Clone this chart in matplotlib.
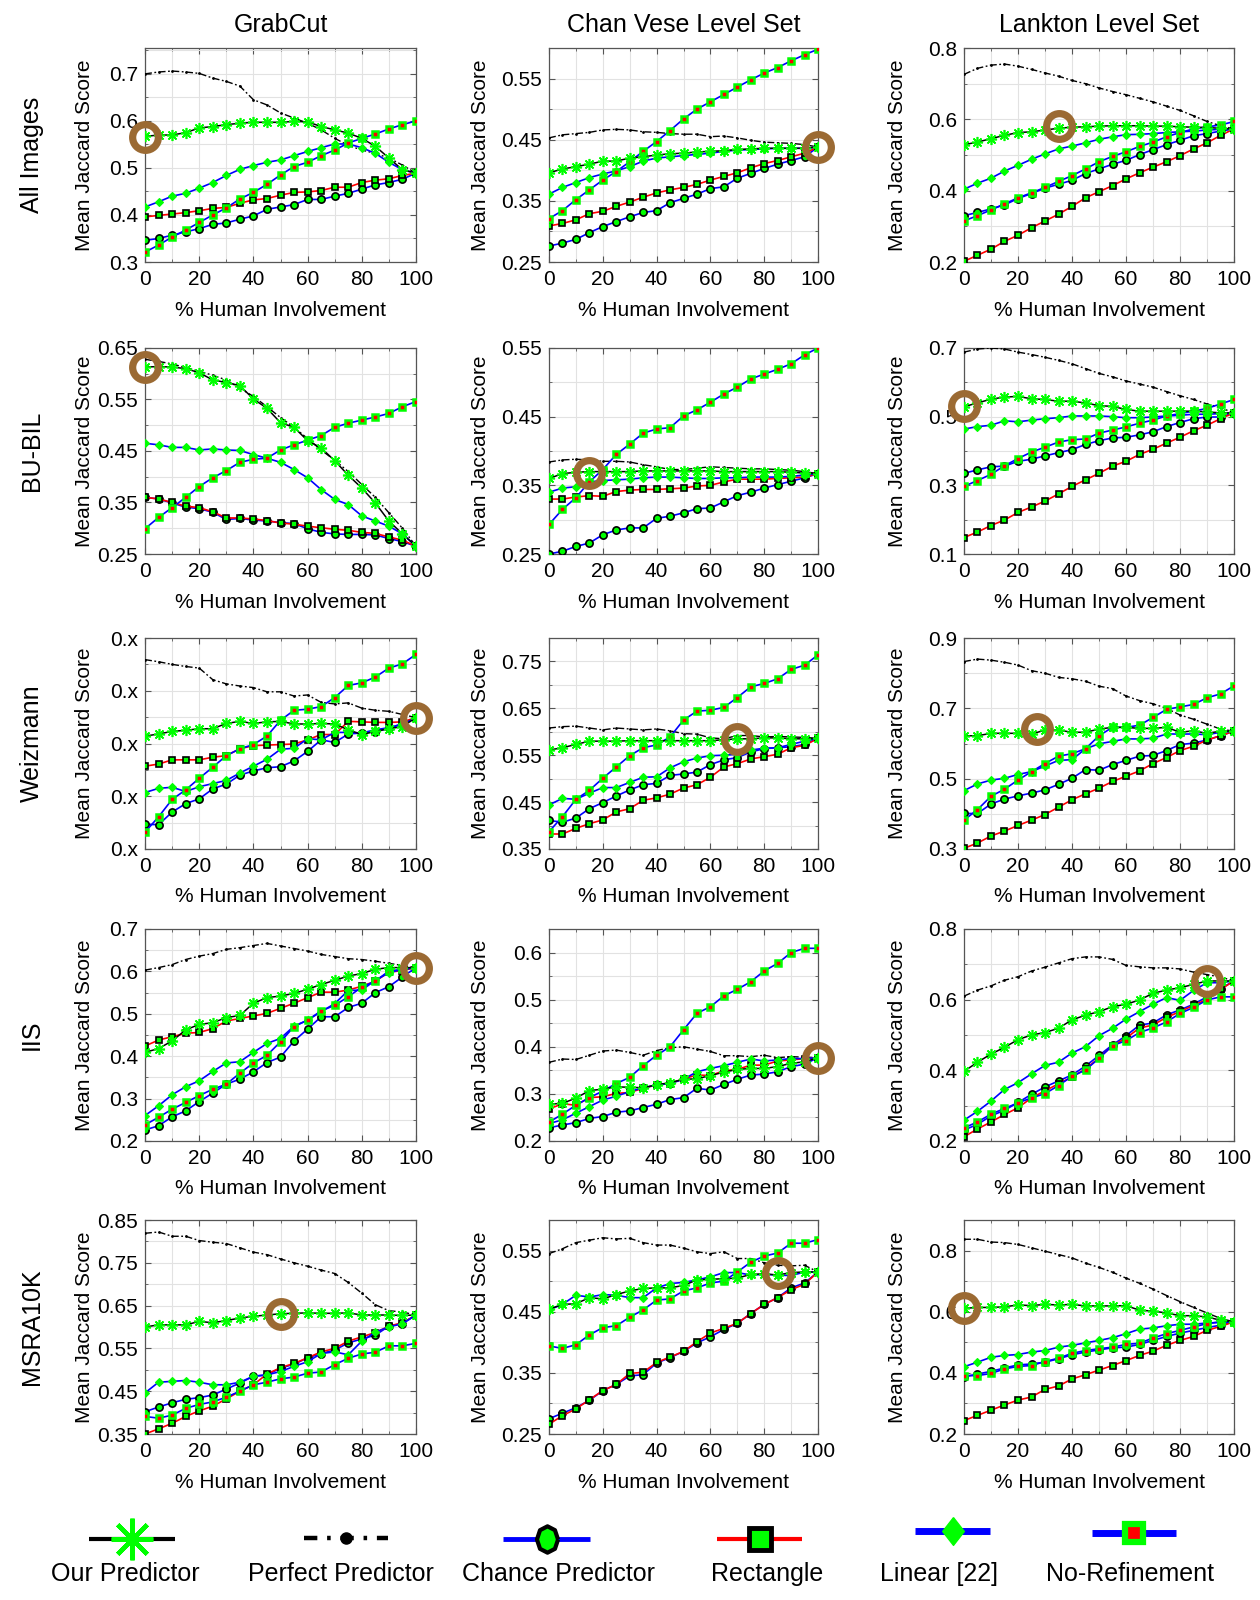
import numpy as np
import matplotlib
matplotlib.use('Agg')
import matplotlib.pyplot as plt
from matplotlib.ticker import FixedLocator, MultipleLocator

plt.rcParams['font.family'] = ['Liberation Sans', 'DejaVu Sans']

# ---------------- data ----------------
x_pct = [0, 5, 10, 15, 20, 25, 30, 35, 40, 45, 50, 55, 60, 65, 70, 75, 80, 85, 90, 95, 100]

datasets = ['All Images', 'BU-BIL', 'Weizmann', 'IIS', 'MSRA10K']
methods = ['GrabCut', 'Chan Vese Level Set', 'Lankton Level Set']
series_names = ['Our Predictor', 'Perfect Predictor', 'Chance Predictor',
                'Rectangle', 'Linear [22]', 'No-Refinement']

# All Images - GrabCut
AI_GC_our = [0.567,0.570,0.570,0.575,0.585,0.588,0.592,0.595,0.597,0.597,0.597,0.599,0.598,0.588,0.581,0.574,0.563,0.546,0.521,0.496,0.489]
AI_GC_perfect = [0.700,0.704,0.706,0.704,0.701,0.691,0.684,0.674,0.645,0.634,0.617,0.606,0.595,0.581,0.563,0.548,0.538,0.531,0.521,0.506,0.489]
AI_GC_chance = [0.346,0.350,0.357,0.364,0.371,0.380,0.383,0.391,0.398,0.412,0.417,0.422,0.433,0.433,0.440,0.446,0.455,0.464,0.469,0.476,0.489]
AI_GC_rect = [0.396,0.399,0.402,0.405,0.409,0.414,0.416,0.425,0.432,0.435,0.442,0.448,0.449,0.452,0.459,0.459,0.469,0.474,0.477,0.484,0.489]
AI_GC_linear = [0.417,0.428,0.440,0.446,0.457,0.469,0.484,0.497,0.505,0.512,0.517,0.526,0.535,0.543,0.551,0.551,0.543,0.531,0.512,0.496,0.489]
AI_GC_noref = [0.321,0.336,0.353,0.368,0.384,0.400,0.415,0.434,0.448,0.465,0.485,0.503,0.512,0.526,0.538,0.553,0.563,0.572,0.583,0.592,0.600]

# All Images - Chan Vese
AI_CV_our = [0.396,0.402,0.406,0.410,0.415,0.415,0.420,0.422,0.425,0.427,0.428,0.430,0.431,0.432,0.434,0.435,0.436,0.436,0.436,0.436,0.438]
AI_CV_perfect = [0.453,0.458,0.460,0.462,0.466,0.467,0.466,0.463,0.462,0.460,0.459,0.459,0.455,0.456,0.453,0.449,0.446,0.445,0.444,0.442,0.438]
AI_CV_chance = [0.276,0.281,0.287,0.298,0.308,0.316,0.324,0.331,0.334,0.347,0.354,0.361,0.370,0.373,0.387,0.395,0.403,0.410,0.416,0.422,0.438]
AI_CV_rect = [0.309,0.313,0.319,0.329,0.333,0.341,0.348,0.356,0.363,0.368,0.372,0.377,0.384,0.390,0.396,0.404,0.411,0.416,0.422,0.428,0.438]
AI_CV_linear = [0.361,0.372,0.380,0.388,0.394,0.399,0.406,0.415,0.420,0.422,0.424,0.426,0.428,0.431,0.433,0.434,0.435,0.436,0.436,0.436,0.438]
AI_CV_noref = [0.321,0.334,0.352,0.368,0.384,0.398,0.414,0.431,0.447,0.465,0.484,0.500,0.512,0.524,0.536,0.548,0.559,0.568,0.579,0.589,0.598]

# All Images - Lankton
AI_LK_our = [0.529,0.536,0.546,0.555,0.563,0.565,0.570,0.575,0.578,0.579,0.581,0.582,0.582,0.582,0.581,0.581,0.579,0.578,0.577,0.575,0.573]
AI_LK_perfect = [0.726,0.743,0.752,0.755,0.749,0.740,0.730,0.721,0.709,0.700,0.688,0.678,0.669,0.659,0.649,0.637,0.625,0.610,0.594,0.582,0.573]
AI_LK_chance = [0.330,0.339,0.349,0.360,0.378,0.392,0.407,0.418,0.429,0.448,0.461,0.474,0.485,0.501,0.515,0.529,0.541,0.554,0.560,0.567,0.573]
AI_LK_rect = [0.202,0.219,0.236,0.258,0.275,0.296,0.315,0.334,0.356,0.380,0.397,0.414,0.433,0.450,0.466,0.481,0.498,0.517,0.534,0.555,0.573]
AI_LK_linear = [0.404,0.421,0.435,0.455,0.471,0.488,0.503,0.517,0.525,0.534,0.544,0.551,0.557,0.558,0.560,0.563,0.565,0.567,0.570,0.572,0.573]
AI_LK_noref = [0.315,0.330,0.346,0.363,0.380,0.394,0.409,0.426,0.442,0.461,0.481,0.496,0.509,0.524,0.536,0.551,0.563,0.573,0.579,0.584,0.594]

# BU-BIL - GrabCut
BB_GC_our = [0.613,0.614,0.613,0.610,0.602,0.588,0.583,0.577,0.551,0.533,0.505,0.496,0.470,0.456,0.431,0.403,0.378,0.349,0.314,0.289,0.265]
BB_GC_perfect = [0.628,0.624,0.619,0.612,0.605,0.597,0.588,0.572,0.556,0.536,0.515,0.496,0.474,0.452,0.432,0.410,0.385,0.360,0.330,0.300,0.265]
BB_GC_chance = [0.360,0.357,0.349,0.341,0.338,0.331,0.317,0.319,0.316,0.314,0.311,0.309,0.299,0.292,0.289,0.288,0.288,0.287,0.280,0.274,0.265]
BB_GC_rect = [0.360,0.357,0.350,0.343,0.340,0.332,0.320,0.320,0.318,0.315,0.310,0.308,0.304,0.301,0.298,0.296,0.292,0.290,0.283,0.277,0.265]
BB_GC_linear = [0.465,0.462,0.457,0.457,0.452,0.454,0.452,0.451,0.443,0.436,0.428,0.414,0.398,0.375,0.356,0.346,0.324,0.314,0.304,0.289,0.265]
BB_GC_noref = [0.299,0.321,0.340,0.360,0.381,0.398,0.412,0.428,0.434,0.436,0.452,0.462,0.471,0.480,0.496,0.504,0.510,0.516,0.523,0.536,0.546]

# BU-BIL - Chan Vese
BB_CV_our = [0.360,0.367,0.369,0.370,0.370,0.370,0.370,0.371,0.371,0.371,0.371,0.371,0.371,0.370,0.370,0.370,0.370,0.370,0.369,0.368,0.367]
BB_CV_perfect = [0.384,0.387,0.388,0.387,0.385,0.385,0.384,0.380,0.377,0.373,0.373,0.375,0.377,0.376,0.375,0.374,0.374,0.373,0.372,0.370,0.367]
BB_CV_chance = [0.250,0.254,0.261,0.266,0.278,0.285,0.288,0.288,0.302,0.305,0.310,0.316,0.317,0.326,0.335,0.340,0.346,0.351,0.356,0.361,0.367]
BB_CV_rect = [0.330,0.330,0.333,0.335,0.334,0.341,0.343,0.344,0.344,0.345,0.346,0.349,0.350,0.355,0.359,0.359,0.359,0.360,0.361,0.362,0.367]
BB_CV_linear = [0.340,0.346,0.348,0.355,0.357,0.358,0.359,0.361,0.362,0.362,0.361,0.360,0.360,0.361,0.361,0.362,0.362,0.362,0.363,0.365,0.367]
BB_CV_noref = [0.293,0.315,0.332,0.355,0.373,0.395,0.410,0.426,0.432,0.434,0.451,0.460,0.471,0.483,0.493,0.505,0.512,0.519,0.527,0.540,0.550]

# BU-BIL - Lankton
BB_LK_our = [0.529,0.540,0.551,0.557,0.559,0.552,0.550,0.545,0.545,0.540,0.532,0.530,0.521,0.516,0.516,0.516,0.516,0.516,0.514,0.511,0.511]
BB_LK_perfect = [0.688,0.697,0.700,0.697,0.688,0.681,0.673,0.664,0.654,0.640,0.626,0.616,0.604,0.595,0.586,0.573,0.561,0.550,0.537,0.526,0.511]
BB_LK_chance = [0.335,0.345,0.354,0.356,0.370,0.376,0.386,0.395,0.404,0.419,0.430,0.438,0.440,0.447,0.456,0.471,0.483,0.494,0.499,0.499,0.511]
BB_LK_rect = [0.148,0.164,0.183,0.199,0.221,0.237,0.254,0.275,0.297,0.316,0.335,0.356,0.370,0.390,0.405,0.423,0.440,0.459,0.475,0.494,0.511]
BB_LK_linear = [0.464,0.471,0.475,0.488,0.485,0.490,0.494,0.497,0.502,0.502,0.502,0.500,0.497,0.497,0.499,0.502,0.504,0.507,0.507,0.509,0.511]
BB_LK_noref = [0.297,0.314,0.332,0.357,0.378,0.397,0.411,0.426,0.433,0.435,0.452,0.461,0.470,0.481,0.490,0.502,0.509,0.516,0.524,0.537,0.550]

# Weizmann - GrabCut
WZ_GC_our = [0.514,0.518,0.523,0.525,0.528,0.528,0.538,0.542,0.538,0.541,0.542,0.537,0.537,0.538,0.537,0.526,0.517,0.523,0.528,0.532,0.549]
WZ_GC_perfect = [0.659,0.655,0.650,0.646,0.643,0.621,0.613,0.609,0.606,0.598,0.598,0.590,0.592,0.578,0.575,0.577,0.567,0.563,0.561,0.555,0.549]
WZ_GC_chance = [0.347,0.346,0.370,0.386,0.395,0.414,0.423,0.440,0.448,0.454,0.456,0.467,0.485,0.507,0.502,0.518,0.520,0.522,0.529,0.538,0.549]
WZ_GC_rect = [0.457,0.461,0.469,0.469,0.469,0.474,0.477,0.490,0.496,0.497,0.498,0.499,0.507,0.517,0.517,0.542,0.541,0.540,0.540,0.541,0.549]
WZ_GC_linear = [0.407,0.415,0.417,0.409,0.418,0.424,0.430,0.444,0.457,0.470,0.489,0.491,0.509,0.507,0.521,0.521,0.520,0.526,0.530,0.536,0.549]
WZ_GC_noref = [0.332,0.361,0.394,0.412,0.434,0.455,0.477,0.490,0.498,0.514,0.544,0.563,0.565,0.570,0.587,0.610,0.615,0.626,0.643,0.651,0.669]

# Weizmann - Chan Vese
WZ_CV_our = [0.561,0.566,0.573,0.580,0.580,0.580,0.581,0.581,0.581,0.581,0.581,0.581,0.581,0.583,0.585,0.585,0.587,0.587,0.585,0.585,0.586]
WZ_CV_perfect = [0.608,0.611,0.612,0.608,0.604,0.608,0.606,0.604,0.606,0.602,0.596,0.595,0.587,0.585,0.592,0.592,0.589,0.590,0.589,0.588,0.586]
WZ_CV_chance = [0.411,0.407,0.416,0.436,0.449,0.463,0.476,0.487,0.490,0.507,0.510,0.514,0.530,0.540,0.545,0.557,0.564,0.566,0.568,0.573,0.586]
WZ_CV_rect = [0.382,0.382,0.394,0.404,0.412,0.429,0.436,0.454,0.459,0.467,0.480,0.487,0.503,0.525,0.532,0.542,0.547,0.552,0.566,0.571,0.586]
WZ_CV_linear = [0.444,0.458,0.456,0.469,0.481,0.481,0.492,0.503,0.504,0.523,0.536,0.544,0.549,0.550,0.552,0.561,0.565,0.566,0.573,0.580,0.586]
WZ_CV_noref = [0.387,0.419,0.456,0.475,0.501,0.525,0.549,0.566,0.572,0.589,0.625,0.644,0.646,0.652,0.673,0.696,0.703,0.713,0.733,0.742,0.764]

# Weizmann - Lankton
WZ_LK_our = [0.622,0.622,0.629,0.629,0.629,0.627,0.638,0.638,0.632,0.632,0.641,0.646,0.646,0.643,0.643,0.646,0.632,0.636,0.629,0.635,0.635]
WZ_LK_perfect = [0.833,0.840,0.837,0.831,0.823,0.807,0.800,0.788,0.784,0.777,0.763,0.756,0.735,0.722,0.713,0.700,0.681,0.669,0.655,0.641,0.635]
WZ_LK_chance = [0.401,0.401,0.428,0.442,0.451,0.459,0.468,0.484,0.501,0.526,0.524,0.540,0.552,0.564,0.566,0.580,0.597,0.601,0.610,0.622,0.635]
WZ_LK_rect = [0.302,0.317,0.337,0.351,0.367,0.382,0.398,0.419,0.440,0.457,0.473,0.492,0.507,0.522,0.543,0.560,0.580,0.592,0.610,0.622,0.635]
WZ_LK_linear = [0.466,0.485,0.496,0.501,0.512,0.520,0.536,0.552,0.554,0.585,0.599,0.606,0.613,0.613,0.615,0.627,0.627,0.627,0.625,0.632,0.635]
WZ_LK_noref = [0.382,0.412,0.450,0.470,0.496,0.520,0.543,0.564,0.571,0.585,0.622,0.646,0.646,0.652,0.674,0.697,0.704,0.711,0.730,0.741,0.764]

# IIS - GrabCut
IS_GC_our = [0.409,0.418,0.436,0.462,0.475,0.479,0.491,0.496,0.525,0.538,0.542,0.548,0.558,0.569,0.579,0.589,0.595,0.605,0.609,0.609,0.609]
IS_GC_perfect = [0.603,0.609,0.616,0.628,0.636,0.642,0.652,0.656,0.661,0.666,0.660,0.654,0.648,0.640,0.635,0.630,0.628,0.624,0.619,0.614,0.609]
IS_GC_chance = [0.226,0.236,0.257,0.271,0.293,0.313,0.334,0.346,0.363,0.385,0.398,0.436,0.464,0.493,0.493,0.515,0.525,0.550,0.564,0.587,0.609]
IS_GC_rect = [0.424,0.438,0.446,0.454,0.456,0.465,0.483,0.489,0.495,0.501,0.513,0.525,0.538,0.551,0.551,0.556,0.565,0.577,0.598,0.602,0.609]
IS_GC_linear = [0.260,0.283,0.309,0.328,0.342,0.364,0.384,0.387,0.409,0.430,0.442,0.471,0.485,0.505,0.524,0.555,0.556,0.579,0.597,0.605,0.609]
IS_GC_noref = [0.238,0.256,0.275,0.291,0.307,0.322,0.334,0.360,0.384,0.402,0.434,0.470,0.485,0.507,0.520,0.540,0.563,0.577,0.601,0.605,0.609]

# IIS - Chan Vese
IS_CV_our = [0.278,0.280,0.291,0.307,0.310,0.315,0.314,0.313,0.319,0.324,0.331,0.332,0.339,0.346,0.352,0.354,0.354,0.358,0.365,0.368,0.377]
IS_CV_perfect = [0.367,0.374,0.373,0.382,0.391,0.393,0.388,0.382,0.392,0.398,0.400,0.395,0.390,0.381,0.381,0.379,0.382,0.377,0.379,0.378,0.377]
IS_CV_chance = [0.228,0.234,0.239,0.248,0.252,0.261,0.264,0.271,0.278,0.288,0.292,0.312,0.308,0.320,0.331,0.340,0.342,0.347,0.358,0.363,0.377]
IS_CV_rect = [0.268,0.279,0.276,0.292,0.294,0.301,0.303,0.312,0.319,0.322,0.332,0.340,0.339,0.349,0.352,0.361,0.361,0.370,0.372,0.375,0.377]
IS_CV_linear = [0.237,0.245,0.259,0.273,0.287,0.295,0.305,0.313,0.319,0.322,0.331,0.347,0.354,0.360,0.367,0.374,0.370,0.372,0.375,0.375,0.377]
IS_CV_noref = [0.240,0.257,0.276,0.292,0.306,0.322,0.335,0.360,0.382,0.400,0.436,0.471,0.485,0.508,0.522,0.538,0.561,0.577,0.600,0.609,0.609]

# IIS - Lankton
IS_LK_our = [0.397,0.423,0.446,0.465,0.487,0.500,0.507,0.519,0.543,0.556,0.566,0.580,0.587,0.599,0.618,0.627,0.634,0.643,0.653,0.653,0.653]
IS_LK_perfect = [0.610,0.627,0.639,0.655,0.665,0.681,0.692,0.704,0.716,0.721,0.721,0.714,0.697,0.693,0.690,0.690,0.687,0.678,0.671,0.664,0.653]
IS_LK_chance = [0.231,0.247,0.271,0.287,0.309,0.332,0.353,0.370,0.387,0.412,0.442,0.472,0.498,0.528,0.534,0.557,0.571,0.587,0.608,0.631,0.653]
IS_LK_rect = [0.212,0.234,0.254,0.275,0.294,0.322,0.342,0.362,0.381,0.404,0.435,0.470,0.491,0.520,0.528,0.550,0.566,0.584,0.601,0.629,0.653]
IS_LK_linear = [0.259,0.284,0.313,0.346,0.365,0.390,0.414,0.423,0.449,0.467,0.498,0.519,0.545,0.566,0.587,0.606,0.598,0.626,0.648,0.648,0.653]
IS_LK_noref = [0.237,0.254,0.276,0.292,0.308,0.322,0.334,0.357,0.383,0.401,0.434,0.470,0.484,0.507,0.520,0.537,0.561,0.578,0.599,0.608,0.608]

# MSRA10K - GrabCut
MS_GC_our = [0.600,0.605,0.605,0.605,0.613,0.610,0.615,0.621,0.625,0.628,0.631,0.632,0.633,0.632,0.632,0.633,0.628,0.628,0.628,0.627,0.628]
MS_GC_perfect = [0.819,0.822,0.812,0.812,0.802,0.798,0.795,0.785,0.775,0.769,0.759,0.750,0.742,0.733,0.725,0.704,0.679,0.652,0.638,0.635,0.628]
MS_GC_chance = [0.402,0.413,0.423,0.431,0.435,0.441,0.455,0.469,0.485,0.488,0.504,0.513,0.528,0.538,0.546,0.563,0.572,0.581,0.602,0.608,0.628]
MS_GC_rect = [0.350,0.362,0.375,0.391,0.404,0.415,0.432,0.450,0.465,0.490,0.505,0.515,0.528,0.542,0.550,0.567,0.577,0.587,0.602,0.610,0.628]
MS_GC_linear = [0.446,0.471,0.473,0.475,0.471,0.465,0.465,0.471,0.485,0.488,0.496,0.508,0.519,0.538,0.542,0.535,0.567,0.588,0.600,0.608,0.628]
MS_GC_noref = [0.391,0.387,0.394,0.410,0.419,0.425,0.436,0.450,0.465,0.471,0.479,0.483,0.492,0.495,0.512,0.527,0.537,0.541,0.556,0.556,0.562]

# MSRA10K - Chan Vese
MS_CV_our = [0.454,0.462,0.463,0.473,0.471,0.478,0.484,0.488,0.489,0.489,0.493,0.502,0.503,0.504,0.505,0.511,0.512,0.510,0.514,0.515,0.515]
MS_CV_perfect = [0.545,0.553,0.563,0.567,0.571,0.569,0.570,0.563,0.559,0.559,0.554,0.548,0.545,0.548,0.537,0.537,0.530,0.526,0.525,0.526,0.515]
MS_CV_chance = [0.275,0.284,0.293,0.305,0.321,0.331,0.345,0.347,0.366,0.375,0.385,0.399,0.409,0.421,0.431,0.447,0.462,0.473,0.489,0.497,0.515]
MS_CV_rect = [0.266,0.280,0.291,0.306,0.321,0.331,0.349,0.351,0.367,0.376,0.385,0.401,0.415,0.423,0.431,0.447,0.462,0.473,0.486,0.495,0.515]
MS_CV_linear = [0.453,0.462,0.477,0.474,0.478,0.477,0.473,0.473,0.489,0.496,0.498,0.502,0.507,0.514,0.514,0.510,0.511,0.510,0.509,0.515,0.515]
MS_CV_noref = [0.394,0.390,0.396,0.412,0.424,0.427,0.441,0.453,0.469,0.471,0.484,0.489,0.497,0.500,0.515,0.531,0.541,0.546,0.562,0.562,0.568]

# MSRA10K - Lankton
MS_LK_our = [0.611,0.614,0.614,0.616,0.622,0.620,0.624,0.622,0.624,0.619,0.619,0.619,0.620,0.605,0.602,0.596,0.587,0.587,0.583,0.572,0.567]
MS_LK_perfect = [0.837,0.837,0.828,0.826,0.820,0.809,0.798,0.787,0.776,0.759,0.745,0.729,0.710,0.693,0.674,0.653,0.633,0.614,0.596,0.578,0.567]
MS_LK_chance = [0.387,0.396,0.405,0.416,0.426,0.429,0.435,0.446,0.459,0.468,0.475,0.482,0.484,0.493,0.506,0.519,0.530,0.539,0.548,0.556,0.567]
MS_LK_rect = [0.244,0.261,0.278,0.295,0.311,0.321,0.346,0.357,0.380,0.394,0.409,0.424,0.440,0.457,0.471,0.490,0.506,0.519,0.539,0.552,0.567]
MS_LK_linear = [0.420,0.435,0.451,0.457,0.460,0.468,0.473,0.484,0.490,0.498,0.506,0.515,0.528,0.543,0.547,0.554,0.559,0.559,0.563,0.565,0.567]
MS_LK_noref = [0.391,0.391,0.398,0.413,0.421,0.424,0.437,0.448,0.464,0.473,0.479,0.484,0.493,0.497,0.514,0.528,0.539,0.550,0.561,0.567,0.567]

# highlighted points (brown rings), one per panel, row-major
ring_x = [0, 100, 35, 0, 15, 0, 100, 70, 27, 100, 100, 90, 50, 85, 0]
ring_y = [0.565, 0.438, 0.582, 0.614, 0.368, 0.532, 0.549, 0.585, 0.640, 0.608, 0.377, 0.654, 0.630, 0.513, 0.611]

# y-axis ranges and tick values per panel (row-major)
y_ranges = [(0.30, 0.755), (0.25, 0.60), (0.20, 0.80),
            (0.25, 0.65), (0.25, 0.55), (0.10, 0.70),
            (0.30, 0.70), (0.35, 0.80), (0.30, 0.90),
            (0.20, 0.70), (0.20, 0.65), (0.20, 0.80),
            (0.35, 0.85), (0.25, 0.60), (0.20, 0.90)]
y_ticks = [[0.3, 0.4, 0.5, 0.6, 0.7], [0.25, 0.35, 0.45, 0.55], [0.2, 0.4, 0.6, 0.8],
           [0.25, 0.35, 0.45, 0.55, 0.65], [0.25, 0.35, 0.45, 0.55], [0.1, 0.3, 0.5, 0.7],
           [0.3, 0.4, 0.5, 0.6, 0.7], [0.35, 0.45, 0.55, 0.65, 0.75], [0.3, 0.5, 0.7, 0.9],
           [0.2, 0.3, 0.4, 0.5, 0.6, 0.7], [0.2, 0.3, 0.4, 0.5, 0.6], [0.2, 0.4, 0.6, 0.8],
           [0.35, 0.45, 0.55, 0.65, 0.75, 0.85], [0.25, 0.35, 0.45, 0.55], [0.2, 0.4, 0.6, 0.8]]
weizmann_grabcut_ticklabels = ['0.x', '0.x', '0.x', '0.x', '0.x']
x_ticks = [0, 20, 40, 60, 80, 100]

prefixes = ['AI', 'BB', 'WZ', 'IS', 'MS']
suffixes = ['GC', 'CV', 'LK']
G = globals()

# ---------------- styles ----------------
GREEN = '#00ff00'
BLUE = '#0000ff'
RED = '#ff0000'
BROWN = '#9b6a33'
styles = {
    'perfect': dict(color='black', lw=1.0, ls=(0, (5, 1.8, 1.3, 1.8)), marker='.', ms=2.0,
                    mfc='black', mec='black', zorder=3),
    'chance': dict(color=BLUE, lw=1.2, ls='-', marker='o', ms=5.2, mfc=GREEN, mec='black',
                   mew=1.2, zorder=4),
    'rect': dict(color=RED, lw=1.2, ls='-', marker='s', ms=4.8, mfc=GREEN, mec='black',
                 mew=1.2, zorder=5),
    'linear': dict(color=BLUE, lw=1.2, ls='-', marker='D', ms=3.8, mfc=GREEN, mec=GREEN,
                   mew=0.8, zorder=6),
    'noref': dict(color=BLUE, lw=1.2, ls='-', marker='s', ms=4.2, mfc=RED, mec=GREEN,
                  mew=1.8, zorder=7),
    'our': dict(color='black', lw=1.1, ls='-', marker=(8, 2, 0), ms=8.0, mfc=GREEN, mec=GREEN,
                mew=1.2, zorder=8),
}
draw_order = ['perfect', 'chance', 'rect', 'linear', 'noref', 'our']

# ---------------- layout (pixels) ----------------
W, H = 1260, 1600
col_px = [(145, 416), (549, 818), (964, 1234)]
row_px = [(48, 262), (348, 554), (638, 849), (929, 1141), (1220, 1434)]
ylabel_off = [61, 68, 66]

fig = plt.figure(figsize=(W / 100, H / 100), dpi=100)

for r in range(5):
    for c in range(3):
        i = r * 3 + c
        x0, x1 = col_px[c]
        y0, y1 = row_px[r]
        ax = fig.add_axes([x0 / W, 1 - y1 / H, (x1 - x0) / W, (y1 - y0) / H])
        ax.set_xlim(0, 100)
        ax.set_ylim(*y_ranges[i])
        pre = prefixes[r] + '_' + suffixes[c] + '_'
        for k in draw_order:
            st = styles[k]
            ax.plot(x_pct, G[pre + k], color=st['color'], lw=st['lw'], ls=st['ls'],
                    marker=st['marker'], ms=st['ms'], mfc=st['mfc'], mec=st['mec'],
                    mew=st.get('mew', 1.0), zorder=st['zorder'])
        ax.plot([ring_x[i]], [ring_y[i]], marker='o', ms=18.5, mfc='none', mec=BROWN,
                mew=5.2, ls='none', zorder=20, clip_on=False)

        yt = y_ticks[i]
        ax.yaxis.set_major_locator(FixedLocator(yt))
        step = yt[1] - yt[0]
        ax.yaxis.set_minor_locator(MultipleLocator(step / 2))
        if r == 2 and c == 0:
            ax.set_yticklabels(weizmann_grabcut_ticklabels)
        else:
            ax.set_yticklabels([f'{v:g}' for v in yt])
        ax.xaxis.set_major_locator(FixedLocator(x_ticks))
        ax.xaxis.set_minor_locator(MultipleLocator(10))
        ax.set_xticklabels([str(v) for v in x_ticks])

        ax.grid(True, which='both', color='#e2e2e2', lw=0.8, ls='-')
        ax.set_axisbelow(True)
        ax.tick_params(which='both', direction='in', top=True, right=True,
                       color='#555555', labelsize=15)
        ax.tick_params(which='major', length=4, width=0.8)
        ax.tick_params(which='minor', length=2, width=0.6)
        ax.tick_params(axis='y', pad=5)
        ax.tick_params(axis='x', pad=6)
        for sp in ax.spines.values():
            sp.set_color('#555555')
            sp.set_linewidth(0.9)

        wpx = x1 - x0
        hpx = y1 - y0
        ax.set_xlabel('% Human Involvement', fontsize=15, va='center')
        ax.xaxis.set_label_coords(0.5, -48 / hpx)
        ax.set_ylabel('Mean Jaccard Score', fontsize=15, va='center')
        ax.yaxis.set_label_coords(-ylabel_off[c] / wpx, 0.5)

        if r == 0:
            fig.text((x0 + x1) / 2 / W, 1 - 25.5 / H, methods[c], fontsize=18,
                     ha='center', va='center')
        if c == 0:
            fig.text(32 / W, 1 - (y0 + y1) / 2 / H, datasets[r], fontsize=18,
                     rotation=90, ha='center', va='center')

# ---------------- legend (drawn beneath the panels) ----------------
lg = fig.add_axes([0, 0, 1, 1])
lg.set_xlim(0, W)
lg.set_ylim(H, 0)
lg.axis('off')
lg.patch.set_visible(False)

diamond_marker = [(0, 1), (0.78, 0), (0, -1), (-0.78, 0), (0, 1)]
ellipse_marker = [(0.8 * np.cos(t), np.sin(t)) for t in np.linspace(0, 2 * np.pi, 9)]

leg_keys = ['our', 'perfect', 'chance', 'rect', 'linear', 'noref']
leg_line = [(89, 175), (304, 388), (503, 590), (717, 802), (915, 990), (1092, 1176)]
leg_y = [1539, 1538, 1539, 1539, 1531, 1533]
leg_text_x = [125, 341, 558, 767, 939, 1130]
leg_style = {
    'our': dict(color='black', lw=3.0, ls='-', marker=(8, 2, 0), ms=30, mfc=GREEN, mec=GREEN, mew=3.2),
    'perfect': dict(color='black', lw=3.2, ls=(0, (3, 2.2, 0.8, 2.2)), marker='o', ms=8, mfc='black', mec='black', mew=1),
    'chance': dict(color=BLUE, lw=3.5, ls='-', marker=ellipse_marker, ms=19, mfc=GREEN, mec='black', mew=3),
    'rect': dict(color=RED, lw=3.0, ls='-', marker='s', ms=16, mfc=GREEN, mec='black', mew=3.5),
    'linear': dict(color=BLUE, lw=5.0, ls='-', marker=diamond_marker, ms=20, mfc=GREEN, mec=GREEN, mew=1),
    'noref': dict(color=BLUE, lw=5.0, ls='-', marker='s', ms=13, mfc=RED, mec=GREEN, mew=4.5),
}
for j, k in enumerate(leg_keys):
    st = leg_style[k]
    xa, xb = leg_line[j]
    yy = leg_y[j]
    lg.plot([xa, xb], [yy, yy], color=st['color'], lw=st['lw'], ls=st['ls'],
            solid_capstyle='butt', dash_capstyle='butt')
    lg.plot([(xa + xb) / 2], [yy], marker=st['marker'], ms=st['ms'], mfc=st['mfc'],
            mec=st['mec'], mew=st['mew'], ls='none')
    lg.text(leg_text_x[j], 1574, series_names[j], fontsize=18, ha='center', va='center')

fig.savefig('out.png', dpi=100)
